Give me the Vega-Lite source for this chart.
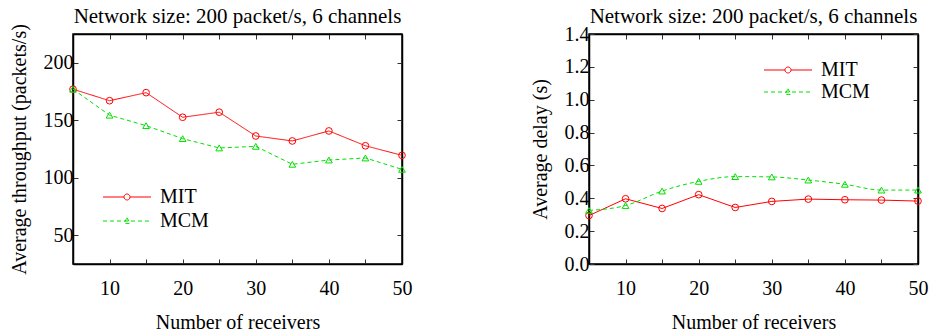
{
  "$schema": "https://vega.github.io/schema/vega-lite/v6.json",
  "background": "white",
  "padding": {"left": 8, "top": 4, "right": 0, "bottom": 0},
  "config": {
    "font": "Liberation Serif",
    "view": {"stroke": "black", "strokeWidth": 1.5},
    "axis": {"labelFont": "Liberation Serif", "labelFontSize": 20, "labelColor": "black", "titleFont": "Liberation Serif", "titleFontSize": 20, "titleFontWeight": "normal", "titleColor": "black", "grid": false, "domainColor": "black", "domainWidth": 1.5, "tickColor": "#333", "tickSize": -5, "tickWidth": 1, "labelFlush": false},
    "title": {"font": "Liberation Serif", "fontSize": 21, "fontWeight": "normal", "color": "black", "offset": -3},
    "legend": {"labelFont": "Liberation Serif", "labelFontSize": 20, "labelColor": "black"}
  },
  "datasets": {
    "thr": [
      {"receivers": 5, "series": "MIT", "value": 177},
      {"receivers": 10, "series": "MIT", "value": 167},
      {"receivers": 15, "series": "MIT", "value": 174},
      {"receivers": 20, "series": "MIT", "value": 152.6},
      {"receivers": 25, "series": "MIT", "value": 157},
      {"receivers": 30, "series": "MIT", "value": 136.3},
      {"receivers": 35, "series": "MIT", "value": 132},
      {"receivers": 40, "series": "MIT", "value": 140.7},
      {"receivers": 45, "series": "MIT", "value": 127.8},
      {"receivers": 50, "series": "MIT", "value": 119.5},
      {"receivers": 5, "series": "MCM", "value": 177},
      {"receivers": 10, "series": "MCM", "value": 154.4},
      {"receivers": 15, "series": "MCM", "value": 145.3},
      {"receivers": 20, "series": "MCM", "value": 134},
      {"receivers": 25, "series": "MCM", "value": 125.9},
      {"receivers": 30, "series": "MCM", "value": 127.3},
      {"receivers": 35, "series": "MCM", "value": 111.7},
      {"receivers": 40, "series": "MCM", "value": 115.4},
      {"receivers": 45, "series": "MCM", "value": 117.2},
      {"receivers": 50, "series": "MCM", "value": 107.3}
    ],
    "delay": [
      {"receivers": 5, "series": "MIT", "value": 0.295},
      {"receivers": 10, "series": "MIT", "value": 0.397},
      {"receivers": 15, "series": "MIT", "value": 0.338},
      {"receivers": 20, "series": "MIT", "value": 0.422},
      {"receivers": 25, "series": "MIT", "value": 0.344},
      {"receivers": 30, "series": "MIT", "value": 0.381},
      {"receivers": 35, "series": "MIT", "value": 0.395},
      {"receivers": 40, "series": "MIT", "value": 0.391},
      {"receivers": 45, "series": "MIT", "value": 0.389},
      {"receivers": 50, "series": "MIT", "value": 0.383},
      {"receivers": 5, "series": "MCM", "value": 0.326},
      {"receivers": 10, "series": "MCM", "value": 0.356},
      {"receivers": 15, "series": "MCM", "value": 0.444},
      {"receivers": 20, "series": "MCM", "value": 0.503},
      {"receivers": 25, "series": "MCM", "value": 0.532},
      {"receivers": 30, "series": "MCM", "value": 0.530},
      {"receivers": 35, "series": "MCM", "value": 0.511},
      {"receivers": 40, "series": "MCM", "value": 0.485},
      {"receivers": 45, "series": "MCM", "value": 0.450},
      {"receivers": 50, "series": "MCM", "value": 0.450}
    ]
  },
  "spacing": 116,
  "resolve": {"scale": {"color": "independent", "strokeDash": "independent"}, "legend": {"color": "independent"}},
  "hconcat": [
    {
      "width": 329, "height": 230,
      "title": {"text": "Network size: 200 packet/s, 6 channels"},
      "data": {"name": "thr"},
      "resolve": {"axis": {"x": "independent", "y": "independent"}},
      "layer": [
        {
          "mark": {"type": "line", "strokeWidth": 1},
          "encoding": {
            "x": {"field": "receivers", "type": "quantitative", "scale": {"domain": [5, 50], "nice": false, "zero": false},
                  "axis": {"orient": "bottom", "values": [10, 15, 20, 25, 30, 35, 40, 45, 50], "labelExpr": "datum.value % 10 === 0 ? datum.label : ''", "title": "Number of receivers", "labelPadding": 19, "titlePadding": 14}},
            "y": {"field": "value", "type": "quantitative", "scale": {"domain": [25, 225], "nice": false, "zero": false},
                  "axis": {"orient": "left", "values": [50, 100, 150, 200], "title": "Average throughput (packets/s)", "labelPadding": 5, "titlePadding": 14}},
            "color": {"field": "series", "type": "nominal", "scale": {"domain": ["MIT", "MCM"], "range": ["#ff0000", "#00e000"]},
                      "legend": {"orient": "none", "legendX": 44, "legendY": 153, "title": null, "symbolSize": 36, "labelOffset": 23, "rowPadding": 4, "symbolStrokeWidth": 1, "padding": 0,
                                 "encode": {"symbols": {"update": {
                                   "shape": {"signal": "datum.value === 'MIT' ? 'M-8,0H-1M1,0H8M1,0A1,1,0,1,1,-1,0A1,1,0,1,1,1,0' : 'M-8,0H8M0,-1.1L1,0.8L-1,0.8Z'"},
                                   "strokeDash": {"signal": "datum.value === 'MIT' ? [1,0] : [4,3]"},
                                   "fill": {"value": "transparent"}}}}}},
            "strokeDash": {"field": "series", "type": "nominal", "scale": {"domain": ["MIT", "MCM"], "range": [[1, 0], [4, 3]]}, "legend": null}
          }
        },
        {
          "transform": [{"filter": "datum.series === 'MIT'"}],
          "mark": {"type": "point", "shape": "circle", "filled": false, "size": 45, "strokeWidth": 1, "opacity": 1},
          "encoding": {
            "x": {"field": "receivers", "type": "quantitative", "scale": {"domain": [5, 50], "nice": false, "zero": false},
                  "axis": {"orient": "top", "values": [10, 15, 20, 25, 30, 35, 40, 45, 50], "labels": false, "title": null}},
            "y": {"field": "value", "type": "quantitative", "scale": {"domain": [25, 225], "nice": false, "zero": false},
                  "axis": {"orient": "right", "values": [50, 100, 150, 200], "labels": false, "title": null}},
            "color": {"field": "series", "type": "nominal"}
          }
        },
        {
          "transform": [{"filter": "datum.series === 'MCM'"}],
          "mark": {"type": "point", "shape": "triangle-up", "filled": false, "size": 45, "strokeWidth": 1, "opacity": 1},
          "encoding": {
            "x": {"field": "receivers", "type": "quantitative", "scale": {"domain": [5, 50], "nice": false, "zero": false}, "axis": null},
            "y": {"field": "value", "type": "quantitative", "scale": {"domain": [25, 225], "nice": false, "zero": false}, "axis": null},
            "color": {"field": "series", "type": "nominal"}
          }
        }
      ]
    },
    {
      "width": 329, "height": 230,
      "title": {"text": "Network size: 200 packet/s, 6 channels"},
      "data": {"name": "delay"},
      "resolve": {"axis": {"x": "independent", "y": "independent"}},
      "layer": [
        {
          "transform": [{"filter": "datum.series === 'MIT'"}],
          "mark": {"type": "line", "strokeWidth": 1},
          "encoding": {
            "x": {"field": "receivers", "type": "quantitative", "scale": {"domain": [5, 50], "nice": false, "zero": false},
                  "axis": {"orient": "bottom", "values": [10, 15, 20, 25, 30, 35, 40, 45, 50], "labelExpr": "datum.value % 10 === 0 ? datum.label : ''", "title": "Number of receivers", "labelPadding": 19, "titlePadding": 14}},
            "y": {"field": "value", "type": "quantitative", "scale": {"domain": [0, 1.4], "nice": false},
                  "axis": {"orient": "left", "values": [0, 0.2, 0.4, 0.6, 0.8, 1.0, 1.2, 1.4], "format": ".1f", "title": "Average delay (s)", "labelPadding": 5, "titlePadding": 14}},
            "color": {"field": "series", "type": "nominal", "scale": {"domain": ["MIT", "MCM"], "range": ["#ff0000", "#00e000"]},
                      "legend": {"orient": "none", "legendX": 189, "legendY": 26, "title": null, "symbolSize": 36, "labelOffset": 23, "rowPadding": 2, "symbolStrokeWidth": 1, "padding": 0,
                                 "encode": {"symbols": {"update": {
                                   "shape": {"signal": "datum.value === 'MIT' ? 'M-8,0H-1M1,0H8M1,0A1,1,0,1,1,-1,0A1,1,0,1,1,1,0' : 'M-8,0H8M0,-1.1L1,0.8L-1,0.8Z'"},
                                   "strokeDash": {"signal": "datum.value === 'MIT' ? [1,0] : [4,3]"},
                                   "fill": {"value": "transparent"}}}}}}
          }
        },
        {
          "transform": [{"filter": "datum.series === 'MCM'"}],
          "mark": {"type": "line", "strokeWidth": 1, "strokeDash": [4, 3], "interpolate": "monotone"},
          "encoding": {
            "x": {"field": "receivers", "type": "quantitative", "scale": {"domain": [5, 50], "nice": false, "zero": false}, "axis": null},
            "y": {"field": "value", "type": "quantitative", "scale": {"domain": [0, 1.4], "nice": false}, "axis": null},
            "color": {"field": "series", "type": "nominal"}
          }
        },
        {
          "transform": [{"filter": "datum.series === 'MIT'"}],
          "mark": {"type": "point", "shape": "circle", "filled": false, "size": 45, "strokeWidth": 1, "opacity": 1},
          "encoding": {
            "x": {"field": "receivers", "type": "quantitative", "scale": {"domain": [5, 50], "nice": false, "zero": false},
                  "axis": {"orient": "top", "values": [10, 15, 20, 25, 30, 35, 40, 45, 50], "labels": false, "title": null}},
            "y": {"field": "value", "type": "quantitative", "scale": {"domain": [0, 1.4], "nice": false},
                  "axis": {"orient": "right", "values": [0, 0.2, 0.4, 0.6, 0.8, 1.0, 1.2, 1.4], "labels": false, "title": null}},
            "color": {"field": "series", "type": "nominal"}
          }
        },
        {
          "transform": [{"filter": "datum.series === 'MCM'"}],
          "mark": {"type": "point", "shape": "triangle-up", "filled": false, "size": 45, "strokeWidth": 1, "opacity": 1},
          "encoding": {
            "x": {"field": "receivers", "type": "quantitative", "scale": {"domain": [5, 50], "nice": false, "zero": false}, "axis": null},
            "y": {"field": "value", "type": "quantitative", "scale": {"domain": [0, 1.4], "nice": false}, "axis": null},
            "color": {"field": "series", "type": "nominal"}
          }
        }
      ]
    }
  ]
}
